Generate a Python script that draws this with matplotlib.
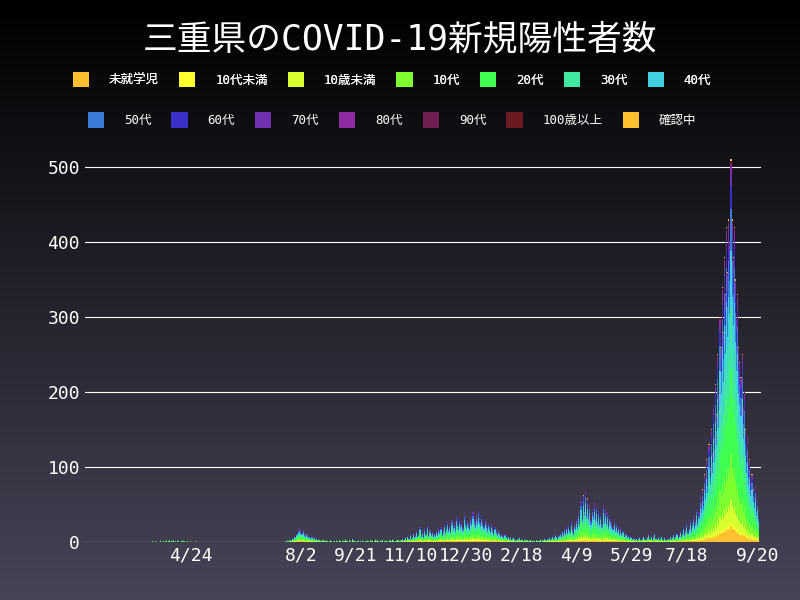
import numpy as np
import pandas as pd
import matplotlib
matplotlib.use("Agg")
import matplotlib.pyplot as plt

plt.rcParams['font.family'] = ['DejaVu Sans Mono', 'Noto Sans CJK JP']

categories = ["未就学児", "10代未満", "10歳未満", "10代", "20代", "30代", "40代",
              "50代", "60代", "70代", "80代", "90代", "100歳以上", "確認中"]
colors = ["#ffc030", "#ffff30", "#d8ff30", "#80ff30", "#40ff50", "#40e8a0", "#40d0e0",
          "#3a7ad8", "#3a30c8", "#7030b0", "#902aa0", "#702050", "#6a1a20", "#ffc030"]
shares = [0.04, 0.01, 0.06, 0.12, 0.22, 0.16, 0.15, 0.11, 0.06, 0.035, 0.02, 0.01, 0.0, 0.005]

# daily totals, 2020-01-20 .. 2021-09-20
daily_total = (
    [0] * 60 + [1, 0, 0, 1, 0, 0, 0, 0, 2, 0, 1, 0] +                       # to Mar 31
    [1, 2, 0, 1, 3, 0, 1, 2, 0, 1, 0, 2, 1, 0, 0, 1, 2, 1, 0, 0, 1, 0, 0, 1, 0, 0, 0, 0, 1, 0] +
    [0] * 31 + [0] * 30 +                                                    # May, Jun
    [0, 0, 0, 0, 0, 0, 0, 0, 0, 0, 0, 0, 0, 0, 0, 0, 0, 0, 1, 0, 2, 1, 3, 2, 5, 4, 8, 6, 10, 12, 15] +
    [18, 14, 12, 16, 10, 8, 12, 9, 6, 8, 5, 7, 4, 6, 3, 5, 2, 4, 3, 2, 1, 3, 2, 1, 2, 1, 0, 1, 2, 1, 0] +
    [1, 0, 2, 1, 0, 3, 1, 0, 2, 1, 4, 2, 1, 0, 3, 1, 0, 5, 2, 1, 0, 1, 2, 0, 1, 0, 2, 1, 0, 1] +
    [2, 1, 0, 3, 1, 2, 0, 1, 4, 2, 1, 0, 2, 1, 3, 0, 1, 2, 1, 0, 3, 2, 1, 4, 2, 0, 1, 2, 3, 1, 2] +
    [3, 5, 2, 4, 6, 3, 8, 5, 10, 4, 7, 12, 6, 9, 15, 8, 11, 20, 9, 14, 7, 18, 10, 12, 22, 9, 16, 11, 13, 8] +
    [12, 9, 15, 10, 18, 14, 20, 11, 16, 24, 13, 19, 28, 17, 22, 15, 30, 21, 25, 18, 35, 26, 20, 32, 24, 28, 19, 38, 27, 22, 30] +
    [25, 20, 33, 28, 40, 30, 24, 36, 29, 42, 31, 26, 35, 28, 22, 30, 25, 18, 26, 21, 15, 24, 18, 12, 20, 14, 10, 16, 12, 8, 11] +
    [9, 6, 10, 7, 5, 8, 4, 6, 3, 5, 7, 4, 2, 5, 3, 6, 2, 4, 3, 1, 4, 2, 3, 1, 2, 3, 1, 2] +
    [1, 2, 0, 3, 1, 2, 4, 1, 3, 2, 5, 3, 2, 4, 6, 3, 5, 8, 4, 6, 10, 7, 5, 9, 12, 8, 15, 10, 18, 12, 20] +
    [14, 22, 16, 28, 18, 12, 25, 20, 32, 22, 40, 28, 55, 35, 62, 45, 68, 40, 58, 36, 50, 30, 45, 38, 52, 35, 48, 30, 42, 28] +
    [38, 25, 50, 32, 44, 28, 40, 22, 35, 30, 25, 20, 28, 18, 24, 15, 20, 12, 18, 10, 15, 8, 12, 10, 7, 9, 5, 8, 6, 4, 5] +
    [3, 5, 2, 4, 6, 3, 2, 5, 8, 4, 3, 6, 10, 5, 4, 8, 3, 6, 12, 5, 4, 7, 3, 5, 8, 4, 2, 6, 3, 4] +
    [5, 3, 8, 4, 6, 10, 5, 8, 12, 6, 9, 15, 8, 12, 20, 10, 16, 25, 14, 20, 30, 18, 26, 35, 22, 30, 45, 28, 40, 60, 50] +
    [70, 55, 90, 75, 110, 85, 130, 100, 150, 120, 180, 140, 210, 170, 250, 200, 300, 260, 340, 280, 380, 330, 420, 360, 430, 400, 510, 430, 380, 420, 350] +
    [300, 330, 260, 240, 220, 250, 180, 200, 150, 120, 140, 100, 110, 80, 90, 70, 60, 75, 45, 55, 35]
)
start = pd.Timestamp("2020-01-20")
dates = pd.date_range(start, periods=len(daily_total))
tick_labels = ["4/24", "8/2", "9/21", "11/10", "12/30", "2/18", "4/9", "5/29", "7/18", "9/20"]
tick_dates = pd.to_datetime(["2020-04-24", "2020-08-02", "2020-09-21", "2020-11-10", "2020-12-30",
                             "2021-02-18", "2021-04-09", "2021-05-29", "2021-07-18", "2021-09-20"])

fig = plt.figure(figsize=(8, 6), dpi=100)
bg = fig.add_axes([0, 0, 1, 1], zorder=-10)
grad = np.linspace(0, 1, 256).reshape(-1, 1)
top = np.array([0.0, 0.0, 0.0]); bot = np.array([0x48, 0x44, 0x58]) / 255
bg.imshow(top + grad[..., None] * (bot - top), aspect="auto", extent=[0, 1, 0, 1])
bg.axis("off")

ax = fig.add_axes([0.106, 0.097, 0.845, 0.654])
ax.set_facecolor("none")
total = np.array(daily_total, dtype=float)
bottom = np.zeros(len(total))
x = (dates - start).days.values
for cat, col, s in zip(categories, colors, shares):
    vals = total * s
    ax.bar(x, vals, bottom=bottom, width=1.0, color=col, label=cat, linewidth=0)
    bottom += vals

ax.set_ylim(0, 523)
ax.set_xlim(-1, x[-1] + 2)
ax.set_yticks([0, 100, 200, 300, 400, 500])
ax.yaxis.grid(True, color="white", linewidth=0.8)
ax.set_axisbelow(True)
ax.set_xticks((tick_dates - start).days.values)
ax.set_xticklabels(tick_labels)
ax.tick_params(colors="white", labelsize=13, length=0)
for sp in ax.spines.values():
    sp.set_visible(False)

fig.text(0.5, 0.935, "三重県のCOVID-19新規陽性者数", color="white", fontsize=25, ha="center", va="center")
handles, labels = ax.get_legend_handles_labels()
legkw = dict(ncol=7, loc="center", frameon=False, fontsize=9, labelcolor="white",
             handlelength=1.3, handleheight=1.5, columnspacing=1.6, handletextpad=1.6)
leg1 = fig.legend(handles[:7], labels[:7], bbox_to_anchor=(0.49, 0.867), **legkw)
fig.add_artist(leg1)
fig.legend(handles[7:], labels[7:], bbox_to_anchor=(0.49, 0.8), **legkw)
fig.savefig("out.png")
